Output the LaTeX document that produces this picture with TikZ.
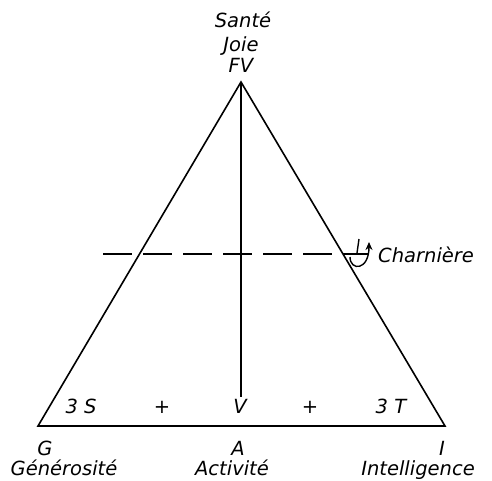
\documentclass[tikz,border=0pt]{standalone}
\usepackage{fontspec}
\setmainfont{DejaVu Sans}
\usetikzlibrary{arrows.meta}
\begin{document}
\begin{tikzpicture}[x=1pt,y=-1pt,
  lbl/.style={font=\fontsize{19.5}{22}\selectfont\itshape, inner sep=0pt, anchor=base},
  edgeline/.style={line width=1.6pt},
]
\useasboundingbox (0,0) rectangle (492,480);
\coordinate (top) at (241,82);
\coordinate (G) at (38,426);
\coordinate (I) at (445,426);
\coordinate (vend) at (241,397);
\coordinate (dl) at (103,254);
\coordinate (dr) at (369,254);
\coordinate (hingetop) at (359,239);
\coordinate (hingebot) at (357,253);
\coordinate (arcstart) at (350,257);
\coordinate (arcend) at (369,242);
\draw[edgeline, line join=miter] (G) -- (top) -- (I) -- cycle;
\draw[edgeline] (top) -- (vend);
\draw[edgeline, dash pattern=on 29pt off 11pt] (dl) -- (dr);
% hinge symbol
\draw[line width=1.4pt] (hingetop) -- (hingebot);
\draw[line width=1.4pt, -{Stealth[length=8pt,width=7pt]}] (arcstart) .. controls (350,271) and (369,271) .. (arcend);
% labels
\node[lbl] (sante) at (243,27) {Santé};
\node[lbl] (joie) at (241,51) {Joie};
\node[lbl] (fv) at (241,72) {FV};
\node[lbl] (gl) at (45,455) {G};
\node[lbl] (al) at (238,455) {A};
\node[lbl] (il) at (442,455) {I};
\node[lbl] (gen) at (64,475) {Générosité};
\node[lbl] (act) at (232,475) {Activité};
\node[lbl] (int) at (418,475) {Intelligence};
\node[lbl] (s3) at (81,413) {3 S};
\node[lbl] (p1) at (162,413) {+};
\node[lbl] (vv) at (240,413) {V};
\node[lbl] (p2) at (310,413) {+};
\node[lbl] (t3) at (391,413) {3 T};
\node[lbl, anchor=base west] (ch) at (378,262) {Charnière};
\end{tikzpicture}
\end{document}
